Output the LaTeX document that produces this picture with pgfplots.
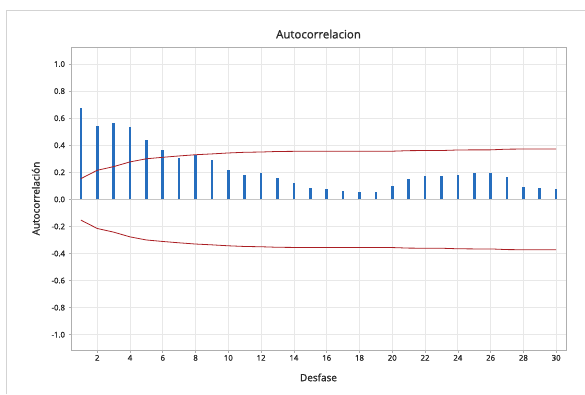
\documentclass[border=0pt]{standalone}
\usepackage{pgfplots}
\pgfplotsset{compat=1.18}
\usepackage{fontspec}
\setmainfont{Open Sans}
\newfontfamily\semib{Open Sans}[FakeBold=1.2]
\definecolor{barblue}{RGB}{38,110,190}
\definecolor{limred}{RGB}{170,30,35}
\definecolor{gridgray}{RGB}{232,232,232}
\definecolor{framegray}{RGB}{175,175,175}
\definecolor{txt}{RGB}{40,40,40}
\pgfplotstableread{
lag acf
1 0.674
2 0.545
3 0.563
4 0.535
5 0.437
6 0.368
7 0.304
8 0.328
9 0.289
10 0.215
11 0.178
12 0.193
13 0.160
14 0.119
15 0.081
16 0.078
17 0.059
18 0.051
19 0.051
20 0.100
21 0.149
22 0.173
23 0.171
24 0.180
25 0.193
26 0.193
27 0.168
28 0.092
29 0.085
30 0.078
}\acf
\pgfplotstableread{
lag up lo
1 0.153 -0.153
2 0.215 -0.215
3 0.242 -0.242
4 0.277 -0.277
5 0.300 -0.300
6 0.311 -0.311
7 0.321 -0.321
8 0.330 -0.330
9 0.336 -0.336
10 0.343 -0.343
11 0.348 -0.348
12 0.350 -0.350
13 0.354 -0.354
14 0.355 -0.355
15 0.355 -0.355
16 0.355 -0.355
17 0.355 -0.355
18 0.356 -0.356
19 0.356 -0.356
20 0.356 -0.356
21 0.360 -0.360
22 0.361 -0.361
23 0.361 -0.361
24 0.365 -0.365
25 0.366 -0.366
26 0.366 -0.366
27 0.371 -0.371
28 0.372 -0.372
29 0.372 -0.372
30 0.372 -0.372
}\lims
\begin{document}
\begin{tikzpicture}[x=1bp,y=1bp]
\useasboundingbox (0,0) rectangle (585,394);
\draw[gridgray!80!gray, line width=0.8bp] (6,0) -- (6,384) -- (585,384);
\begin{axis}[
  at={(71bp,44bp)}, anchor=south west,
  width=495bp, height=303bp, scale only axis,
  xmin=0.4, xmax=30.6, ymin=-1.113, ymax=1.126,
  xtick={2,4,...,30}, ytick={-1,-0.8,...,1.01},
  yticklabel style={/pgf/number format/.cd,fixed,fixed zerofill,precision=1},
  /pgf/number format/assume math mode=true,
  tick label style={font=\fontsize{7.8}{9}\selectfont\semib, text=txt},
  xticklabel style={yshift=1bp},
  tick align=outside, major tick length=2.5bp,
  tick style={framegray, line width=0.6bp},
  xtick pos=bottom, ytick pos=left,
  grid=major, major grid style={gridgray, line width=0.7bp},
  axis line style={framegray, line width=0.9bp},
  title={Autocorrelacion},
  title style={font=\fontsize{11.5}{13}\selectfont\semib, text=txt, yshift=-1bp},
  xlabel={Desfase}, ylabel={Autocorrelación},
  label style={font=\fontsize{10}{12}\selectfont\semib, text=txt},
  xlabel style={yshift=-6bp},
  ylabel style={yshift=5bp},
  clip=false,
]
\draw[gray!45, line width=1.5bp] (axis cs:0.4,0) -- (axis cs:30.6,0);
\addplot[ycomb, barblue, line width=2.6bp, no marks] table[x=lag,y=acf] {\acf};
\addplot[limred, line width=0.8bp, no marks] table[x=lag,y=up] {\lims};
\addplot[limred, line width=0.8bp, no marks] table[x=lag,y=lo] {\lims};
\end{axis}
\end{tikzpicture}
\end{document}
